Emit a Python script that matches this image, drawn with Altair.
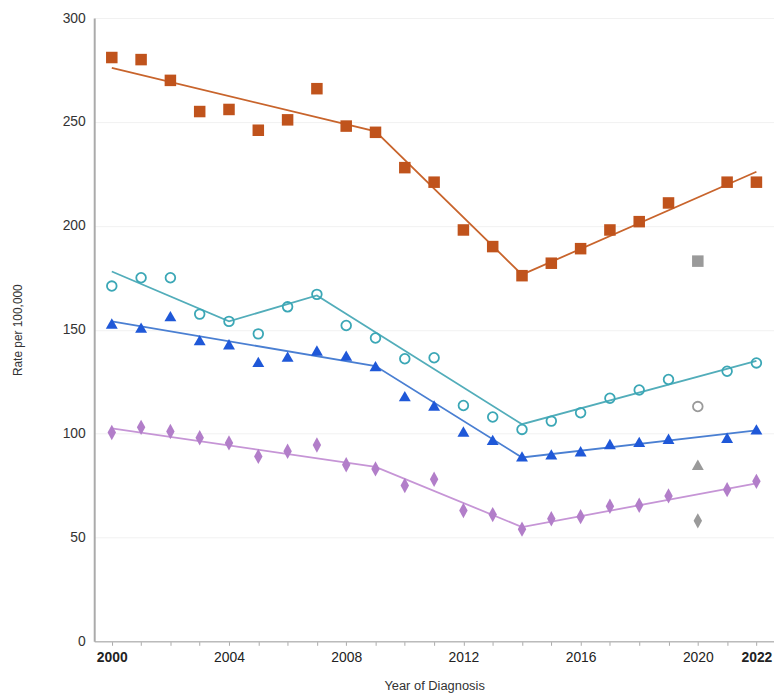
import altair as alt
import pandas as pd

years = list(range(2000, 2023))

# observed rates (2020 plotted separately in gray)
all_races = [281, 280, 270, 255, 256, 246, 251, 266, 248, 245, 228, 221, 198, 190, 176, 182, 189, 198, 202, 211, 183, 221, 221]
teal_obs = [171, 175, 175, 157.5, 154, 148, 161, 167, 152, 146, 136, 136.5, 113.5, 108, 102, 106, 110, 117, 121, 126, 113, 130, 134]
blue_obs = [153, 151, 156.5, 145, 143, 134.5, 137, 140, 137.5, 132.5, 118, 113.5, 101, 97, 89, 90, 91.5, 95, 96, 97.5, 85, 98, 102]
purple_obs = [100.5, 103, 101, 98, 95.5, 89, 91.5, 94.5, 85, 83, 75, 78, 63, 61, 54, 59, 60, 65, 65.5, 70, 58, 73, 77]

# joinpoint fitted trends (joinpoint years and fitted values)
brown_fit_years = [2000, 2009, 2014, 2022]
brown_fit = [276, 245.5, 176.5, 226]
teal_fit_years = [2000, 2004, 2007, 2014, 2022]
teal_fit = [178, 154, 166.5, 104.5, 135]
blue_fit_years = [2000, 2009, 2014, 2022]
blue_fit = [154, 132.5, 88.5, 101.5]
purple_fit_years = [2000, 2009, 2014, 2022]
purple_fit = [102.5, 84, 55, 76]

series_names = ["brown", "teal", "blue", "purple"]
obs_values = [all_races, teal_obs, blue_obs, purple_obs]
fit_years = [brown_fit_years, teal_fit_years, blue_fit_years, purple_fit_years]
fit_values = [brown_fit, teal_fit, blue_fit, purple_fit]

pt_colors = {"brown": "#c0531c", "teal": "#3ba7b6", "blue": "#1f58d8", "purple": "#b27ec9"}
ln_colors = {"brown": "#c8642c", "teal": "#52adba", "blue": "#4a7fd2", "purple": "#c695d6"}

rows = []
for name, vals in zip(series_names, obs_values):
    for y, v in zip(years, vals):
        rows.append({"series": name, "year": y, "rate": v, "covid": y == 2020})
obs = pd.DataFrame(rows)

fit_rows = []
for name, ys, vs in zip(series_names, fit_years, fit_values):
    for y, v in zip(ys, vs):
        fit_rows.append({"series": name, "year": y, "rate": v})
fit = pd.DataFrame(fit_rows)

FONT = "Liberation Sans Narrow, Liberation Sans, Arial, sans-serif"

x_enc = alt.X(
    "year:Q",
    scale=alt.Scale(domain=[1999.4, 2022.6], nice=False, zero=False),
    axis=alt.Axis(
        title="Year of Diagnosis",
        values=years,
        format="d",
        labelExpr="(datum.value % 4 == 0 || datum.value == 2022) ? datum.label : ''",
        labelOverlap=False,
        labelFont=FONT,
        labelFontSize=14,
        labelColor="#222222",
        labelFontWeight={"condition": {"test": "datum.value == 2000 || datum.value == 2022", "value": "bold"}, "value": "normal"},
        labelPadding=5,
        tickSize=4,
        tickColor="#aaaaaa",
        domainColor="#bbbbbb",
        domainWidth=1.5,
        grid=False,
        titleFont=FONT,
        titleFontSize=13,
        titleFontWeight="normal",
        titleColor="#333333",
        titlePadding=16,
    ),
)
y_enc = alt.Y(
    "rate:Q",
    scale=alt.Scale(domain=[0, 300], nice=False),
    axis=alt.Axis(
        title="Rate per 100,000",
        values=[0, 50, 100, 150, 200, 250, 300],
        ticks=False,
        labelPadding=9,
        labelFont=FONT,
        labelFontSize=14,
        labelColor="#333333",
        domainColor="#aaaaaa",
        domainWidth=2,
        grid=True,
        gridColor="#f1f1f1",
        titleFont=FONT,
        titleFontSize=12,
        titleFontWeight="normal",
        titleColor="#333333",
        titlePadding=38,
    ),
)

layers = []
for name in series_names:
    layers.append(
        alt.Chart(fit[fit.series == name]).mark_line(color=ln_colors[name], strokeWidth=1.8).encode(x=x_enc, y=y_enc)
    )

normal = obs[~obs.covid]
gray = obs[obs.covid]

shape_cfg = {
    "brown": dict(shape="square", filled=True, size=135),
    "teal": dict(shape="circle", filled=False, size=95, strokeWidth=1.8),
    "blue": dict(shape="triangle-up", filled=True, size=145),
    "purple": dict(shape="M0,-1L0.55,0L0,1L-0.55,0Z", filled=True, size=240),
}

for name in series_names:
    cfg = shape_cfg[name]
    layers.append(
        alt.Chart(normal[normal.series == name]).mark_point(color=pt_colors[name], opacity=1, **cfg).encode(x=x_enc, y=y_enc)
    )
    layers.append(
        alt.Chart(gray[gray.series == name]).mark_point(color="#9a9a9a", opacity=1, **cfg).encode(x=x_enc, y=y_enc)
    )

chart = alt.layer(*layers).properties(
    width=686,
    height=629,
    autosize=alt.AutoSizeParams(type="none"),
    padding={"left": 87, "top": 7, "right": 0, "bottom": 50},
).configure_view(stroke=None)

chart.save("out.html", embed_options={"renderer": "svg", "actions": False})
